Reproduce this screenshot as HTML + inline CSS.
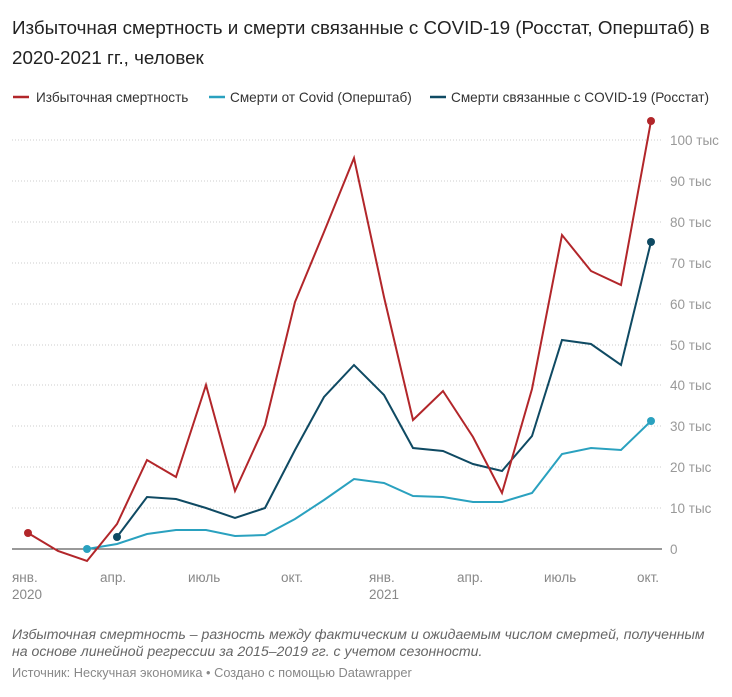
<!DOCTYPE html>
<html><head><meta charset="utf-8"><style>
body{margin:0;background:#fff;font-family:"Liberation Sans",sans-serif;}
</style></head><body>
<svg width="732" height="692" xmlns="http://www.w3.org/2000/svg" font-family="Liberation Sans, sans-serif">
<text x="12" y="34" font-size="18.8" fill="#222">Избыточная смертность и смерти связанные с COVID-19 (Росстат, Оперштаб) в</text>
<text x="12" y="64" font-size="18.8" fill="#222">2020-2021 гг., человек</text>
<g font-size="13.6" fill="#333">
<line x1="13" y1="97" x2="29" y2="97" stroke="#b2262a" stroke-width="2.5"/><text x="36" y="102">Избыточная смертность</text>
<line x1="209" y1="97" x2="225" y2="97" stroke="#2aa1bf" stroke-width="2.5"/><text x="230" y="102">Смерти от Covid (Оперштаб)</text>
<line x1="430" y1="97" x2="446" y2="97" stroke="#0f4a63" stroke-width="2.5"/><text x="451" y="102">Смерти связанные с COVID-19 (Росстат)</text>
</g>
<g stroke="#ccc" stroke-dasharray="1,2" stroke-width="1">
<line x1="12" y1="140" x2="662" y2="140"/><line x1="12" y1="181" x2="662" y2="181"/><line x1="12" y1="222" x2="662" y2="222"/><line x1="12" y1="263" x2="662" y2="263"/><line x1="12" y1="304" x2="662" y2="304"/><line x1="12" y1="345" x2="662" y2="345"/><line x1="12" y1="385" x2="662" y2="385"/><line x1="12" y1="426" x2="662" y2="426"/><line x1="12" y1="467" x2="662" y2="467"/><line x1="12" y1="508" x2="662" y2="508"/>
</g>
<line x1="12" y1="549" x2="662" y2="549" stroke="#333" stroke-width="1"/>
<g font-size="13.5" fill="#999">
<text x="670" y="145">100 тыс</text><text x="670" y="186">90 тыс</text><text x="670" y="227">80 тыс</text><text x="670" y="268">70 тыс</text><text x="670" y="309">60 тыс</text><text x="670" y="350">50 тыс</text><text x="670" y="390">40 тыс</text><text x="670" y="431">30 тыс</text><text x="670" y="472">20 тыс</text><text x="670" y="513">10 тыс</text><text x="670" y="554">0</text>
</g>
<g font-size="13.5" fill="#888">
<text x="12" y="582">янв.</text><text x="12" y="599">2020</text>
<text x="100" y="582">апр.</text><text x="188" y="582">июль</text><text x="281" y="582">окт.</text>
<text x="369" y="582">янв.</text><text x="369" y="599">2021</text>
<text x="457" y="582">апр.</text><text x="544" y="582">июль</text><text x="637" y="582">окт.</text>
</g>
<polyline fill="none" stroke="#2aa1bf" stroke-width="2" points="87,549 117,544 147,534 176,530 206,530 235,536 265,535 295,519 324,500 354,479 384,483 413,496 443,497 473,502 502,502 532,493 562,454 591,448 621,450 651,421"/>
<polyline fill="none" stroke="#0f4a63" stroke-width="2" points="117,537 147,497 176,499 206,508 235,518 265,508 295,450 324,397 354,365 384,395 413,448 443,451 473,464 502,471 532,436 562,340 591,344 621,365 651,242"/>
<polyline fill="none" stroke="#b2262a" stroke-width="2" points="28,533 58,551 87,561 117,524 147,460 176,477 206,385 235,491 265,425 295,302 324,232 354,158 384,297 413,420 443,391 473,437 502,493 532,389 562,235 591,271 621,285 651,121"/>
<circle cx="28" cy="533" r="4" fill="#b2262a"/><circle cx="651" cy="121" r="4" fill="#b2262a"/>
<circle cx="87" cy="549" r="4" fill="#2aa1bf"/><circle cx="651" cy="421" r="4" fill="#2aa1bf"/>
<circle cx="117" cy="537" r="4" fill="#0f4a63"/><circle cx="651" cy="242" r="4" fill="#0f4a63"/>
<g font-size="14.1" fill="#666" font-style="italic">
<text x="12" y="639">Избыточная смертность – разность между фактическим и ожидаемым числом смертей, полученным</text>
<text x="12" y="656">на основе линейной регрессии за 2015–2019 гг. с учетом сезонности.</text>
</g>
<text x="12" y="677" font-size="12.8" fill="#888">Источник: Нескучная экономика • Создано с помощью Datawrapper</text>
</svg>
</body></html>
